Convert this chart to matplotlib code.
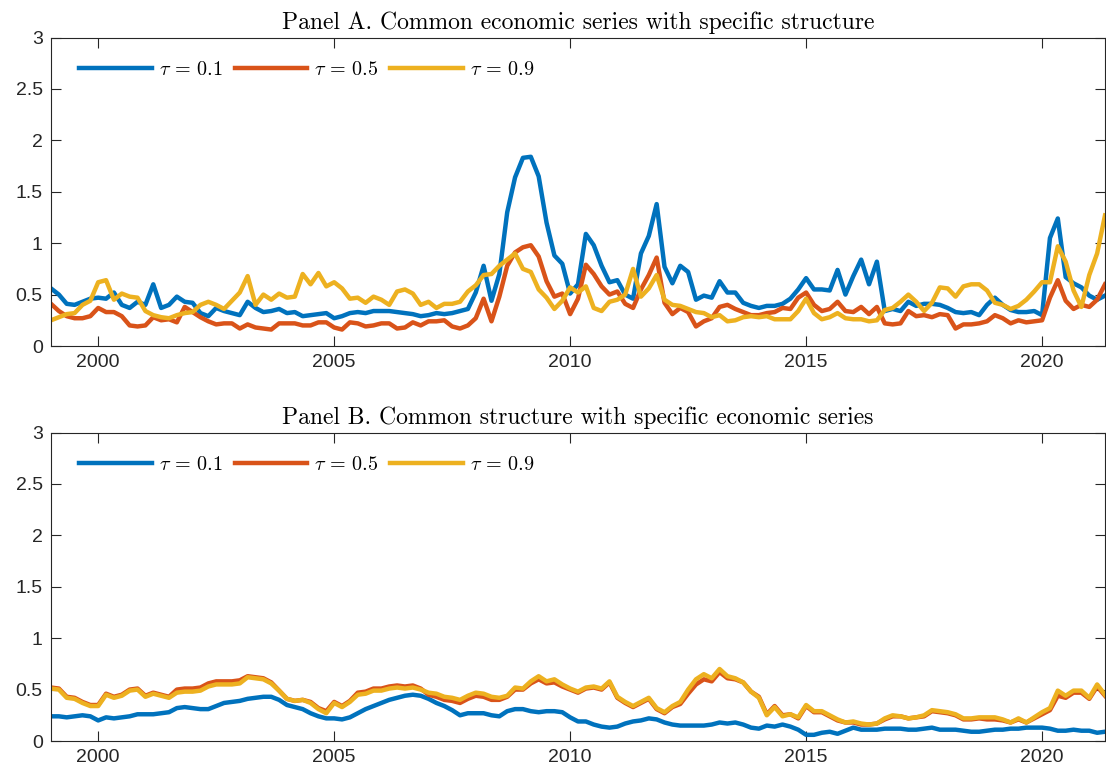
import numpy as np
import matplotlib
matplotlib.use('Agg')
from matplotlib import pyplot as plt
from matplotlib.ticker import FormatStrFormatter

plt.rcParams.update({
    'font.family': 'Liberation Sans',
    'font.size': 14,
    'mathtext.fontset': 'cm',
    'axes.linewidth': 0.8,
    'axes.edgecolor': '#262626',
    'xtick.color': '#262626',
    'ytick.color': '#262626',
})

# bimonthly observations, Jan 1999 - May 2021
n_obs = 135
dates = 1999 + np.arange(n_obs) / 6

# Panel A: common economic series, specific structure
a_tau10 = [0.56, 0.50, 0.41, 0.40, 0.43, 0.46, 0.47, 0.46, 0.52, 0.40,
           0.37, 0.43, 0.40, 0.60, 0.37, 0.40, 0.48, 0.43, 0.42, 0.32,
           0.29, 0.37, 0.34, 0.32, 0.30, 0.43, 0.37, 0.33, 0.34, 0.36,
           0.32, 0.33, 0.29, 0.30, 0.31, 0.32, 0.27, 0.29, 0.32, 0.33,
           0.32, 0.34, 0.34, 0.34, 0.33, 0.32, 0.31, 0.29, 0.30, 0.32,
           0.31, 0.32, 0.34, 0.36, 0.52, 0.78, 0.44, 0.70, 1.30, 1.64,
           1.83, 1.84, 1.65, 1.20, 0.88, 0.80, 0.51, 0.60, 1.09, 0.98,
           0.78, 0.62, 0.64, 0.50, 0.46, 0.90, 1.07, 1.38, 0.77, 0.61,
           0.78, 0.72, 0.45, 0.49, 0.47, 0.63, 0.52, 0.52, 0.42, 0.39,
           0.37, 0.39, 0.39, 0.41, 0.46, 0.55, 0.66, 0.55, 0.55, 0.54,
           0.74, 0.50, 0.68, 0.84, 0.60, 0.82, 0.34, 0.36, 0.34, 0.43,
           0.39, 0.41, 0.41, 0.40, 0.37, 0.33, 0.32, 0.33, 0.30, 0.40,
           0.47, 0.40, 0.35, 0.33, 0.33, 0.34, 0.30, 1.05, 1.24, 0.67,
           0.61, 0.57, 0.49, 0.45, 0.49]
a_tau50 = [0.41, 0.34, 0.29, 0.27, 0.27, 0.29, 0.37, 0.33, 0.33, 0.29,
           0.20, 0.19, 0.20, 0.28, 0.25, 0.26, 0.23, 0.38, 0.33, 0.28,
           0.24, 0.21, 0.22, 0.22, 0.17, 0.21, 0.18, 0.17, 0.16, 0.22,
           0.22, 0.22, 0.20, 0.20, 0.23, 0.23, 0.18, 0.16, 0.23, 0.22,
           0.19, 0.20, 0.22, 0.22, 0.17, 0.18, 0.23, 0.20, 0.24, 0.24,
           0.25, 0.19, 0.17, 0.20, 0.27, 0.46, 0.24, 0.48, 0.78, 0.91,
           0.96, 0.98, 0.87, 0.63, 0.48, 0.51, 0.31, 0.46, 0.79, 0.70,
           0.58, 0.50, 0.53, 0.41, 0.37, 0.55, 0.69, 0.86, 0.42, 0.31,
           0.37, 0.33, 0.19, 0.24, 0.27, 0.38, 0.40, 0.36, 0.33, 0.30,
           0.30, 0.32, 0.33, 0.37, 0.36, 0.47, 0.52, 0.40, 0.34, 0.36,
           0.43, 0.34, 0.33, 0.38, 0.31, 0.38, 0.22, 0.21, 0.22, 0.34,
           0.29, 0.30, 0.28, 0.31, 0.30, 0.17, 0.21, 0.21, 0.22, 0.24,
           0.30, 0.27, 0.22, 0.25, 0.23, 0.24, 0.25, 0.47, 0.64, 0.44,
           0.36, 0.40, 0.38, 0.45, 0.60]
a_tau90 = [0.25, 0.28, 0.31, 0.32, 0.40, 0.44, 0.62, 0.64, 0.45, 0.51,
           0.48, 0.47, 0.34, 0.30, 0.28, 0.27, 0.30, 0.32, 0.33, 0.40,
           0.43, 0.40, 0.36, 0.44, 0.52, 0.68, 0.40, 0.50, 0.45, 0.51,
           0.47, 0.48, 0.70, 0.60, 0.71, 0.58, 0.62, 0.56, 0.46, 0.47,
           0.42, 0.48, 0.45, 0.40, 0.53, 0.55, 0.51, 0.40, 0.43, 0.37,
           0.41, 0.41, 0.43, 0.53, 0.59, 0.69, 0.70, 0.78, 0.84, 0.90,
           0.75, 0.72, 0.55, 0.47, 0.36, 0.44, 0.57, 0.52, 0.58, 0.37,
           0.34, 0.43, 0.45, 0.50, 0.75, 0.48, 0.56, 0.69, 0.45, 0.40,
           0.39, 0.36, 0.33, 0.32, 0.28, 0.30, 0.24, 0.25, 0.28, 0.29,
           0.28, 0.29, 0.26, 0.26, 0.26, 0.34, 0.46, 0.32, 0.26, 0.28,
           0.32, 0.27, 0.26, 0.26, 0.24, 0.25, 0.35, 0.37, 0.43, 0.50,
           0.43, 0.34, 0.42, 0.57, 0.56, 0.48, 0.58, 0.60, 0.60, 0.54,
           0.42, 0.40, 0.36, 0.39, 0.45, 0.53, 0.62, 0.62, 0.97, 0.82,
           0.54, 0.38, 0.69, 0.90, 1.27]

# Panel B: common structure, specific economic series
b_tau10 = [0.24, 0.24, 0.23, 0.24, 0.25, 0.24, 0.20, 0.23, 0.22, 0.23,
           0.24, 0.26, 0.26, 0.26, 0.27, 0.28, 0.32, 0.33, 0.32, 0.31,
           0.31, 0.34, 0.37, 0.38, 0.39, 0.41, 0.42, 0.43, 0.43, 0.40,
           0.35, 0.33, 0.31, 0.27, 0.24, 0.22, 0.22, 0.21, 0.23, 0.27,
           0.31, 0.34, 0.37, 0.40, 0.42, 0.44, 0.45, 0.44, 0.41, 0.37,
           0.34, 0.30, 0.25, 0.27, 0.27, 0.27, 0.25, 0.24, 0.29, 0.31,
           0.31, 0.29, 0.28, 0.29, 0.29, 0.28, 0.23, 0.19, 0.19, 0.16,
           0.14, 0.13, 0.14, 0.17, 0.19, 0.20, 0.22, 0.21, 0.18, 0.16,
           0.15, 0.15, 0.15, 0.15, 0.16, 0.18, 0.17, 0.18, 0.16, 0.13,
           0.12, 0.15, 0.14, 0.16, 0.14, 0.11, 0.06, 0.06, 0.08, 0.09,
           0.07, 0.10, 0.13, 0.11, 0.11, 0.11, 0.12, 0.12, 0.12, 0.11,
           0.11, 0.12, 0.13, 0.11, 0.11, 0.11, 0.10, 0.09, 0.09, 0.10,
           0.11, 0.11, 0.12, 0.12, 0.13, 0.13, 0.13, 0.12, 0.10, 0.10,
           0.11, 0.10, 0.10, 0.08, 0.09]
b_tau50 = [0.52, 0.51, 0.43, 0.42, 0.38, 0.35, 0.35, 0.46, 0.43, 0.45,
           0.50, 0.51, 0.44, 0.47, 0.45, 0.43, 0.50, 0.51, 0.51, 0.52,
           0.56, 0.58, 0.58, 0.58, 0.59, 0.63, 0.62, 0.61, 0.57, 0.49,
           0.41, 0.39, 0.40, 0.38, 0.32, 0.29, 0.38, 0.34, 0.39, 0.47,
           0.48, 0.51, 0.51, 0.53, 0.54, 0.53, 0.54, 0.51, 0.45, 0.43,
           0.40, 0.39, 0.37, 0.41, 0.44, 0.43, 0.40, 0.40, 0.43, 0.50,
           0.50, 0.56, 0.60, 0.56, 0.57, 0.53, 0.50, 0.47, 0.51, 0.52,
           0.50, 0.57, 0.42, 0.37, 0.33, 0.37, 0.41, 0.31, 0.27, 0.33,
           0.36, 0.46, 0.55, 0.60, 0.58, 0.67, 0.61, 0.60, 0.57, 0.48,
           0.43, 0.26, 0.34, 0.25, 0.26, 0.22, 0.34, 0.28, 0.28, 0.24,
           0.20, 0.18, 0.18, 0.16, 0.16, 0.17, 0.21, 0.24, 0.24, 0.22,
           0.23, 0.24, 0.29, 0.28, 0.27, 0.25, 0.21, 0.21, 0.22, 0.21,
           0.21, 0.20, 0.18, 0.21, 0.18, 0.22, 0.26, 0.30, 0.44, 0.42,
           0.47, 0.47, 0.41, 0.53, 0.44]
b_tau90 = [0.51, 0.50, 0.42, 0.41, 0.37, 0.34, 0.34, 0.45, 0.42, 0.44,
           0.49, 0.50, 0.43, 0.46, 0.44, 0.42, 0.47, 0.48, 0.48, 0.49,
           0.53, 0.55, 0.55, 0.55, 0.56, 0.62, 0.61, 0.60, 0.56, 0.49,
           0.41, 0.39, 0.40, 0.37, 0.31, 0.27, 0.37, 0.33, 0.38, 0.45,
           0.46, 0.49, 0.49, 0.51, 0.52, 0.51, 0.52, 0.50, 0.47, 0.46,
           0.43, 0.42, 0.40, 0.44, 0.47, 0.46, 0.43, 0.42, 0.44, 0.52,
           0.51, 0.58, 0.63, 0.58, 0.60, 0.55, 0.51, 0.48, 0.52, 0.53,
           0.51, 0.58, 0.43, 0.38, 0.34, 0.38, 0.42, 0.32, 0.28, 0.34,
           0.38, 0.50, 0.60, 0.65, 0.61, 0.70, 0.63, 0.61, 0.57, 0.48,
           0.42, 0.25, 0.33, 0.24, 0.26, 0.23, 0.35, 0.29, 0.29, 0.25,
           0.21, 0.18, 0.19, 0.17, 0.16, 0.17, 0.22, 0.25, 0.24, 0.22,
           0.23, 0.25, 0.30, 0.29, 0.28, 0.26, 0.22, 0.22, 0.23, 0.23,
           0.23, 0.21, 0.18, 0.22, 0.18, 0.23, 0.28, 0.32, 0.49, 0.44,
           0.49, 0.49, 0.42, 0.55, 0.45]

tau_labels = [r'$\tau\,=\,0.1$', r'$\tau\,=\,0.5$', r'$\tau\,=\,0.9$']
colors = ['#0072BD', '#D95319', '#EDB120']

panels = [
    ('Panel A. Common economic series with specific structure',
     [a_tau10, a_tau50, a_tau90]),
    ('Panel B. Common structure with specific economic series',
     [b_tau10, b_tau50, b_tau90]),
]

fig = plt.figure(figsize=(11.06, 7.75), dpi=100)
W, H = 1106, 775
boxes = [(51, 37.5, 1054, 308.5), (51, 432.5, 1054, 308.5)]

for (title, series), (x0, y0, w, h) in zip(panels, boxes):
    ax = fig.add_axes([x0 / W, 1 - (y0 + h) / H, w / W, h / H])
    for vals, lab, col in zip(series, tau_labels, colors):
        assert len(vals) == n_obs
        ax.plot(dates, vals, color=col, lw=3.2, label=lab)

    ax.set_xlim(1999, dates[-1])
    ax.set_ylim(0, 3)
    ax.set_xticks([2000, 2005, 2010, 2015, 2020])
    ax.set_yticks(np.arange(0, 3.01, 0.5))
    ax.yaxis.set_major_formatter(FormatStrFormatter('%g'))
    ax.tick_params(direction='in', length=7.5, width=0.8, top=True, right=True,
                   labelsize=14, pad=6)
    ax.set_title(title, fontfamily='cmr10', fontsize=17, pad=6)

    ax.legend(loc='upper left', bbox_to_anchor=(0.027, 0.926), ncol=3,
              frameon=False, fontsize=14.5, handlelength=3.6, handletextpad=0.35,
              columnspacing=0.6, borderaxespad=0, borderpad=0)

plt.savefig('out.png', dpi=100)
